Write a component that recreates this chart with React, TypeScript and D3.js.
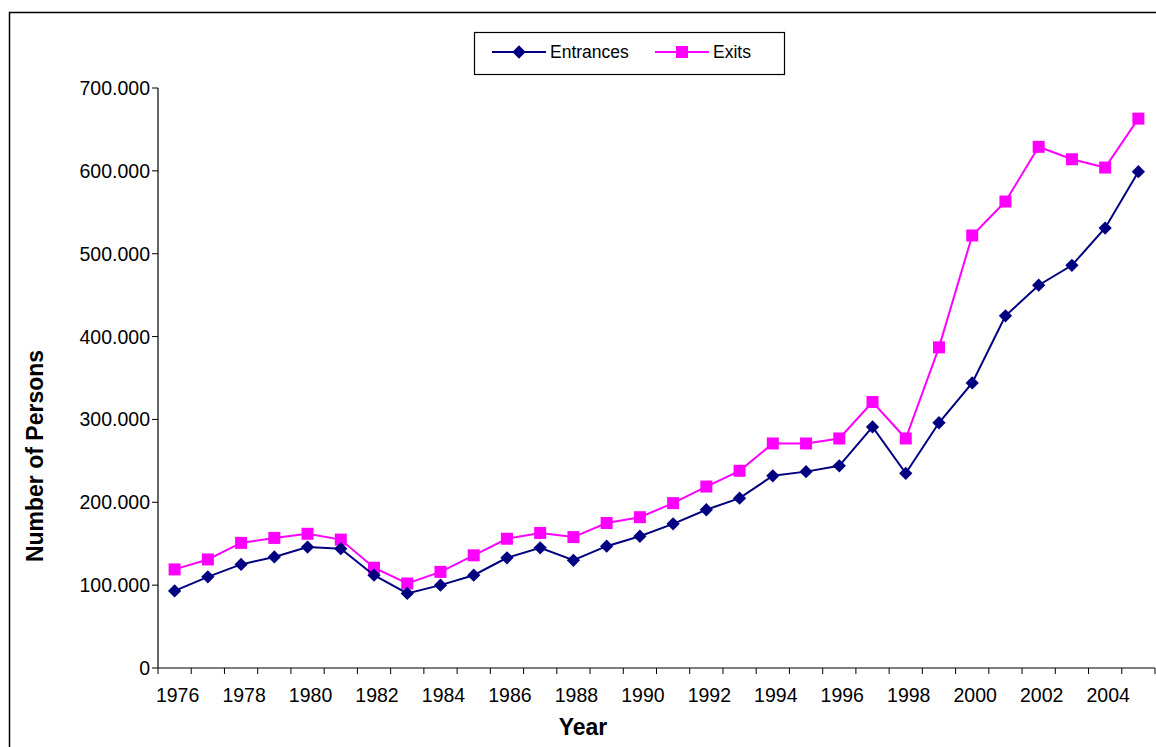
import { useEffect, useRef } from 'react';
import * as d3 from 'd3';

const years = d3.range(1976, 2006).map(String);
const entrances = [
  93, 110, 125, 134, 146, 144, 112, 90, 100, 112, 133, 145, 130, 147, 159, 174, 191, 205, 232, 237,
  244, 291, 235, 296, 344, 425, 462, 486, 531, 599,
];
const exits = [
  119, 131, 151, 157, 162, 155, 121, 102, 116, 136, 156, 163, 158, 175, 182, 199, 219, 238, 271, 271,
  277, 321, 277, 387, 522, 563, 629, 614, 604, 663,
];
const yTicks = [0, 100, 200, 300, 400, 500, 600, 700];

const NAVY = '#000080';
const MAGENTA = '#ff00ff';
const FONT = '"Liberation Sans", Arial, sans-serif';

export default function App() {
  const ref = useRef<SVGSVGElement>(null);

  useEffect(() => {
    if (!ref.current) return;
    const width = 1156;
    const height = 747;
    const svg = d3.select(ref.current);
    svg.selectAll('*').remove();

    const left = 158;
    const right = 1155;
    const top = 88;
    const bottom = 668;

    const x = d3.scaleBand().domain(years).range([left, right]);
    const y = d3.scaleLinear().domain([0, 700]).range([bottom, top]);
    const cx = (d: string) => (x(d) ?? 0) + x.bandwidth() / 2;

    // outer frame (right and bottom edges are off the page)
    svg.append('rect')
      .attr('x', 9.5)
      .attr('y', 12.5)
      .attr('width', width + 40)
      .attr('height', height + 40)
      .attr('fill', 'white')
      .attr('stroke', '#000')
      .attr('stroke-width', 1.5);

    // y axis
    const gy = svg.append('g').attr('font-family', FONT).attr('font-size', 19.5);
    gy.append('line')
      .attr('x1', left).attr('x2', left)
      .attr('y1', top).attr('y2', bottom)
      .attr('stroke', '#000').attr('stroke-width', 1.2);
    yTicks.forEach((t) => {
      gy.append('line')
        .attr('x1', left - 6).attr('x2', left)
        .attr('y1', y(t)).attr('y2', y(t))
        .attr('stroke', '#000').attr('stroke-width', 1);
      gy.append('text')
        .attr('x', left - 8)
        .attr('y', y(t))
        .attr('dy', '0.36em')
        .attr('text-anchor', 'end')
        .attr('fill', '#000')
        .text(t === 0 ? '0' : `${t}.000`);
    });

    // x axis
    const gx = svg.append('g').attr('font-family', FONT).attr('font-size', 19.5);
    gx.append('line')
      .attr('x1', left).attr('x2', right)
      .attr('y1', bottom).attr('y2', bottom)
      .attr('stroke', '#000').attr('stroke-width', 1.2);
    years.forEach((yr, i) => {
      gx.append('line')
        .attr('x1', x(yr)!).attr('x2', x(yr)!)
        .attr('y1', bottom).attr('y2', bottom + 6)
        .attr('stroke', '#000').attr('stroke-width', 1);
      if (i % 2 === 0) {
        gx.append('text')
          .attr('x', cx(yr) + 3)
          .attr('y', 702)
          .attr('text-anchor', 'middle')
          .attr('fill', '#000')
          .text(yr);
      }
    });
    gx.append('line')
      .attr('x1', right).attr('x2', right)
      .attr('y1', bottom).attr('y2', bottom + 6)
      .attr('stroke', '#000').attr('stroke-width', 1);

    // axis titles
    svg.append('text')
      .attr('x', 583)
      .attr('y', 735)
      .attr('text-anchor', 'middle')
      .attr('font-family', FONT)
      .attr('font-weight', 'bold')
      .attr('font-size', 23)
      .text('Year');
    svg.append('text')
      .attr('transform', 'translate(43,456) rotate(-90)')
      .attr('text-anchor', 'middle')
      .attr('font-family', FONT)
      .attr('font-weight', 'bold')
      .attr('font-size', 23)
      .text('Number of Persons');

    const line = d3
      .line<number>()
      .x((_, i) => cx(years[i]))
      .y((d) => y(d));

    const diamond = d3.symbol().type(d3.symbolSquare).size(88);
    const square = d3.symbol().type(d3.symbolSquare).size(144);

    const series = [
      { name: 'Exits', values: exits, color: MAGENTA, marker: square, rot: 0 },
      { name: 'Entrances', values: entrances, color: NAVY, marker: diamond, rot: 45 },
    ];

    series.forEach((s) => {
      svg.append('path')
        .datum(s.values)
        .attr('d', line)
        .attr('fill', 'none')
        .attr('stroke', s.color)
        .attr('stroke-width', 2);
      svg.append('g')
        .selectAll('path')
        .data(s.values)
        .join('path')
        .attr('transform', (d, i) => `translate(${cx(years[i])},${y(d)}) rotate(${s.rot})`)
        .attr('d', s.marker)
        .attr('fill', s.color);
    });

    // legend
    const lg = svg.append('g').attr('font-family', FONT).attr('font-size', 17.5);
    lg.append('rect')
      .attr('x', 474.5).attr('y', 32.5)
      .attr('width', 310).attr('height', 42)
      .attr('fill', 'white')
      .attr('stroke', '#000').attr('stroke-width', 1.2);
    const items = [
      { name: 'Entrances', color: NAVY, marker: diamond, rot: 45, x0: 492 },
      { name: 'Exits', color: MAGENTA, marker: square, rot: 0, x0: 655 },
    ];
    items.forEach((it) => {
      lg.append('line')
        .attr('x1', it.x0).attr('x2', it.x0 + 54)
        .attr('y1', 52).attr('y2', 52)
        .attr('stroke', it.color).attr('stroke-width', 2);
      lg.append('path')
        .attr('transform', `translate(${it.x0 + 27},52) rotate(${it.rot})`)
        .attr('d', it.marker)
        .attr('fill', it.color);
      lg.append('text')
        .attr('x', it.x0 + 58)
        .attr('y', 52)
        .attr('dy', '0.36em')
        .attr('fill', '#000')
        .text(it.name);
    });
  }, []);

  return (
    <svg
      ref={ref}
      width={1156}
      height={747}
      viewBox="0 0 1156 747"
      style={{ position: 'absolute', left: 0, top: 0, display: 'block', background: 'white' }}
    />
  );
}
